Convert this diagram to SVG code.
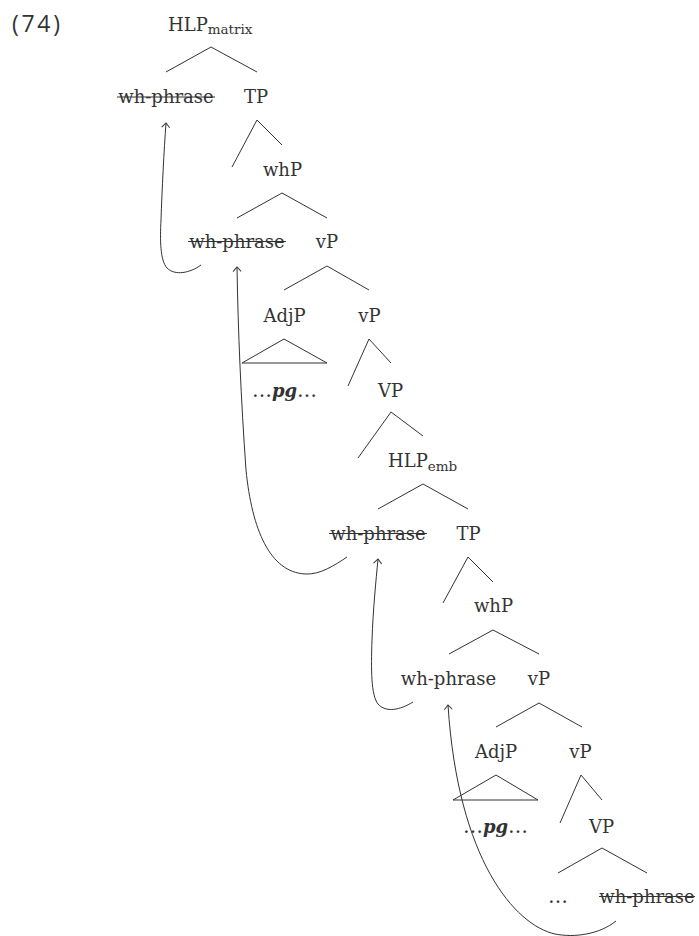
<svg xmlns="http://www.w3.org/2000/svg" width="699" height="936" viewBox="0 0 699 936">
  <style>
    .lbl { font-family: "DejaVu Serif", "Liberation Serif", serif; font-size: 18px; fill: #333; text-anchor: middle; }
    .sub { font-size: 13.5px; }
    .num { font-family: "Open Sans", "DejaVu Sans", sans-serif; font-size: 23px; fill: #333; }
    .pg { font-weight: bold; font-style: italic; }
    .ell { font-size: 20px; }
    .br { stroke: #333; stroke-width: 1; fill: none; }
    .mv { stroke: #333; stroke-width: 1; fill: none; marker-end: url(#head); }
    .del { stroke: #333; stroke-width: 1.1; }
  </style>
  <defs>
    <marker id="head" markerUnits="userSpaceOnUse" markerWidth="12" markerHeight="12" viewBox="-6 -6 12 12" refX="0" refY="0" orient="auto">
      <path d="M-4.5,-4 L0,0 L-4.5,4" fill="none" stroke="#333" stroke-width="1"/>
    </marker>
  </defs>
  <rect width="699" height="936" fill="#fff"/>

  <text class="num" x="12" y="32" textLength="48">(74)</text>

  <!-- tree nodes -->
  <g id="hlp-matrix"><text class="lbl" x="168" y="30.5" style="text-anchor:start">HLP<tspan class="sub" dy="3.5">matrix</tspan></text></g>
  <g id="wh1"><text class="lbl" x="166" y="103">wh-phrase</text><line class="del" x1="117" y1="97" x2="215" y2="97"/></g>
  <g id="tp1"><text class="lbl" x="256" y="103">TP</text></g>
  <g id="whp1"><text class="lbl" x="282.5" y="176">whP</text></g>
  <g id="wh2"><text class="lbl" x="237" y="248">wh-phrase</text><line class="del" x1="188" y1="241.5" x2="286" y2="241.5"/></g>
  <g id="vp1"><text class="lbl" x="327" y="248">vP</text></g>
  <g id="adjp1"><text class="lbl" x="284.5" y="322">AdjP</text></g>
  <g id="vp2"><text class="lbl" x="369.5" y="322">vP</text></g>
  <g id="pg1"><text class="lbl" x="284.5" y="397"><tspan class="ell">…</tspan><tspan class="pg">pg</tspan><tspan class="ell">…</tspan></text></g>
  <g id="VP1"><text class="lbl" x="390.5" y="397">VP</text></g>
  <g id="hlp-emb"><text class="lbl" x="388" y="467" style="text-anchor:start">HLP<tspan class="sub" dy="3.5">emb</tspan></text></g>
  <g id="wh3"><text class="lbl" x="378" y="540">wh-phrase</text><line class="del" x1="329" y1="533.5" x2="427" y2="533.5"/></g>
  <g id="tp2"><text class="lbl" x="468.5" y="540">TP</text></g>
  <g id="whp2"><text class="lbl" x="493.5" y="612">whP</text></g>
  <g id="wh4"><text class="lbl" x="448.5" y="685">wh-phrase</text></g>
  <g id="vp3"><text class="lbl" x="539" y="685">vP</text></g>
  <g id="adjp2"><text class="lbl" x="496" y="758">AdjP</text></g>
  <g id="vp4"><text class="lbl" x="580.5" y="758">vP</text></g>
  <g id="pg2"><text class="lbl" x="495.5" y="833"><tspan class="ell">…</tspan><tspan class="pg">pg</tspan><tspan class="ell">…</tspan></text></g>
  <g id="VP2"><text class="lbl" x="601.5" y="833">VP</text></g>
  <g id="dots"><text class="lbl ell" x="558" y="903">…</text></g>
  <g id="wh5"><text class="lbl" x="647" y="903">wh-phrase</text><line class="del" x1="599" y1="896.5" x2="695" y2="896.5"/></g>

  <!-- branches and movement arrows -->
  <g id="connectors">
    <path class="br" d="M166,72 L211,47 L257,72"/>
    <path class="br" d="M232,167 L257,120 L282,145"/>
    <path class="br" d="M237,218 L282,193 L327,218"/>
    <path class="br" d="M284,290 L327,266 L369,290"/>
    <path class="br" d="M242,363 L284,339 L327,363 Z"/>
    <path class="br" d="M348,386 L369,339 L391,363"/>
    <path class="br" d="M358,458 L391,412 L423,436"/>
    <path class="br" d="M378,509 L423,484 L468,509"/>
    <path class="br" d="M443,603 L468,557 L493,582"/>
    <path class="br" d="M449,654 L493,630 L539,654"/>
    <path class="br" d="M496,727 L539,703 L582,727"/>
    <path class="br" d="M453,800 L496,775 L538,800 Z"/>
    <path class="br" d="M560,823 L581,775 L602,800"/>
    <path class="br" d="M558,873 L602,848 L647,873"/>

    <path class="mv" d="M201,265 C190,273 175,276 167,268 C160,260 160,240 161,220 C162,190 164,150 166,123"/>
    <path class="mv" d="M347,557 C335,565 320,575 305,574 C270,572 252,530 246,470 C241,400 238,330 237,267"/>
    <path class="mv" d="M413,702 C400,710 386,713 378,704 C371,695 371,670 372,640 C373,610 376,580 378,559"/>
    <path class="mv" d="M616,921 C600,934 575,938 555,934 C515,925 458,860 448,705"/>
  </g>
</svg>
